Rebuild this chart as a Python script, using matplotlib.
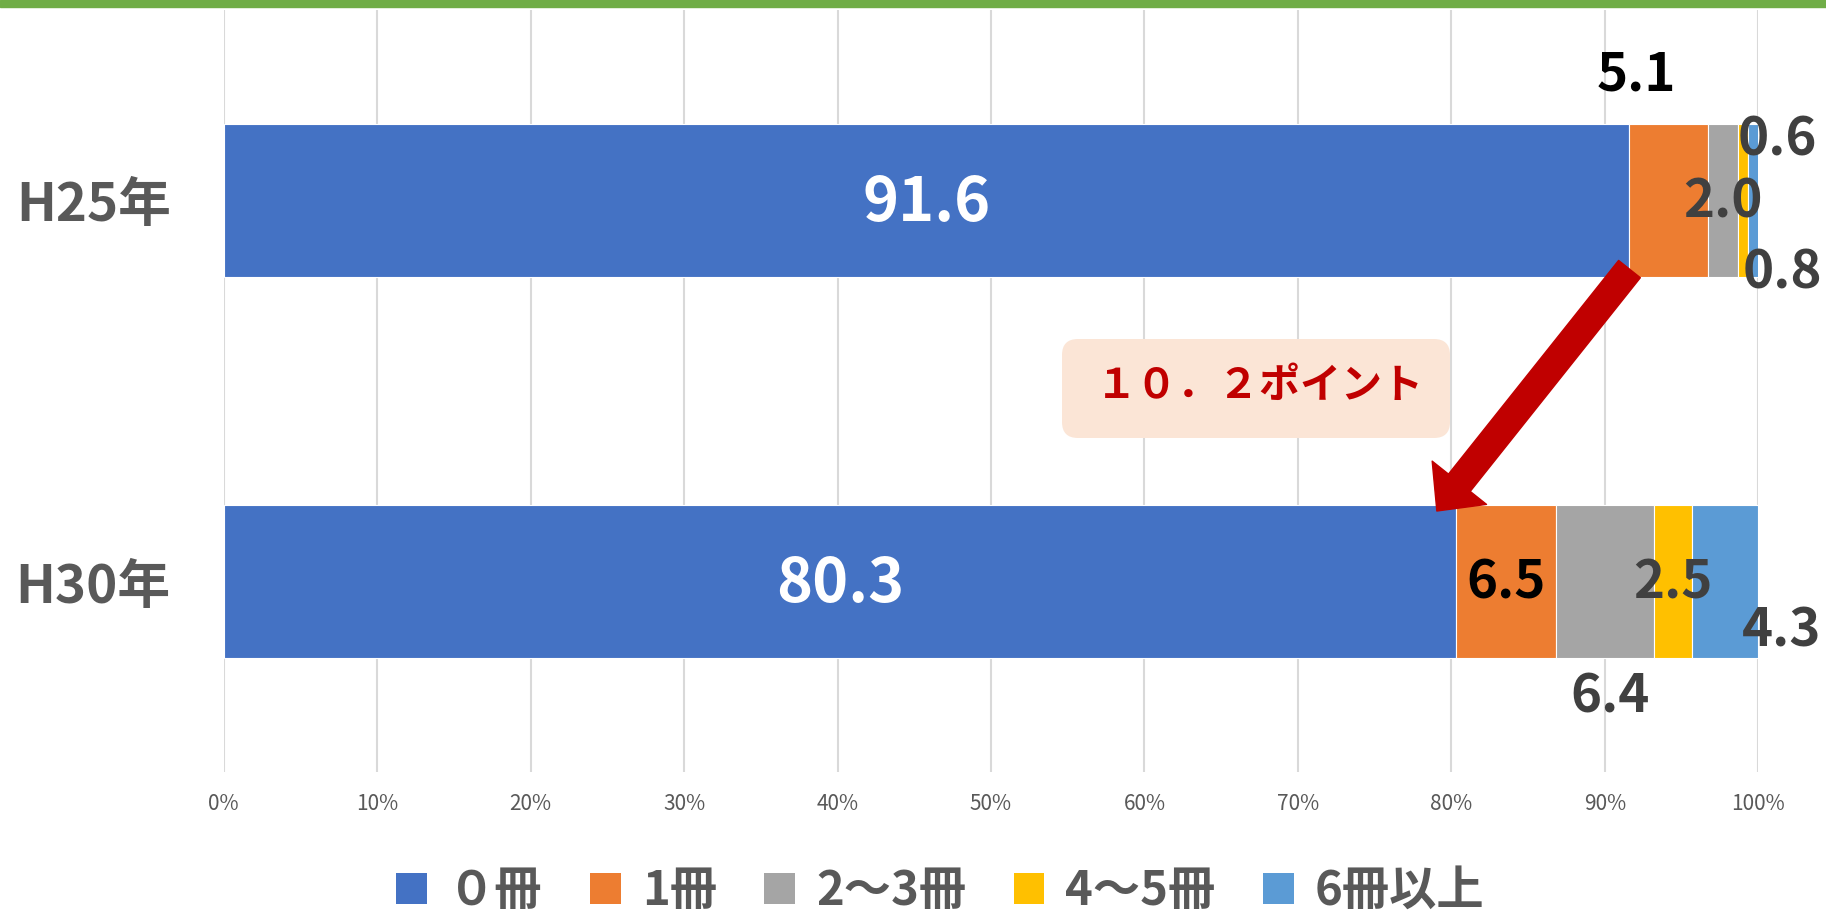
import matplotlib
matplotlib.use("Agg")
import matplotlib.pyplot as plt
from matplotlib.patches import FancyBboxPatch, FancyArrowPatch, Rectangle
from matplotlib.transforms import Affine2D
import numpy as np

plt.rcParams['font.family'] = ['Noto Sans CJK JP', 'DejaVu Sans']

# ---- data ----
years = ["H25年", "H30年"]
series_names = ["０冊", "1冊", "2～3冊", "4～5冊", "6冊以上"]
h25 = [91.6, 5.1, 2.0, 0.6, 0.8]
h30 = [80.3, 6.5, 6.4, 2.5, 4.3]
xticks = [0, 10, 20, 30, 40, 50, 60, 70, 80, 90, 100]
callout_text = "１０．２ポイント"

# ---- styles ----
colors = ["#4472C4", "#ED7D31", "#A5A5A5", "#FFC000", "#5B9BD5"]
label_colors = [["white", "black", "#404040", "#404040", "#404040"],
                ["white", "black", "#404040", "#404040", "#404040"]]
label_sizes = [44, 38, 38, 38, 38]
# label offsets in pixels (dx, dy up) relative to segment centre
label_offsets = [[(0, 4), (-32, 131), (0, 4), (34, 66), (29, -67)],
                 [(0, 4), (0, 4), (5, -110), (0, 4), (56, -44)]]

W, H, DPI = 1826, 915, 100
fig = plt.figure(figsize=(W / DPI, H / DPI), dpi=DPI)
ax = fig.add_axes([223.6 / W, 1 - 772 / H, (1758.4 - 223.6) / W, (772 - 10) / H])

ypos = [1, 0]
data = [h25, h30]
bar_h = 0.4
for si in range(len(series_names)):
    vals = [d[si] for d in data]
    lefts = [sum(d[:si]) for d in data]
    ax.barh(ypos, vals, left=lefts, height=bar_h, color=colors[si],
            edgecolor="white", linewidth=0.8, label=series_names[si], zorder=2)

# data labels
for ri, d in enumerate(data):
    for si, v in enumerate(d):
        cx = sum(d[:si]) + v / 2
        dx, dy = label_offsets[ri][si]
        ax.annotate(f"{v:.1f}", xy=(cx, ypos[ri]), xytext=(dx, dy),
                    textcoords="offset pixels", ha="center", va="center_baseline",
                    fontsize=label_sizes[si], fontweight="bold", color=label_colors[ri][si],
                    zorder=5)

ax.set_xlim(0, 100)
ax.set_ylim(-0.5, 1.5)
ax.set_xticks(xticks)
ax.set_xticklabels([f"{t}%" for t in xticks], fontsize=15, color="#595959")
ax.set_yticks(ypos)
ax.set_yticklabels(years, fontsize=38, fontweight="bold", color="#595959")
ax.tick_params(axis="both", length=0)
ax.tick_params(axis="x", pad=15)
ax.tick_params(axis="y", pad=38)
for s in ax.spines.values():
    s.set_visible(False)
ax.xaxis.grid(True, color="#D9D9D9", linewidth=1.5, zorder=0)
ax.set_axisbelow(True)

# callout box (pixel coords)
pix = Affine2D().scale(1 / DPI) + fig.dpi_scale_trans
box = FancyBboxPatch((1062, H - 438), 388, 99, boxstyle="round,pad=0,rounding_size=16",
                     fc="#FBE5D6", ec="none", transform=pix, zorder=6)
fig.add_artist(box)
fig.text(1260 / W, 1 - 386 / H, callout_text, ha="center", va="center",
         fontsize=29.5, fontweight="bold", color="#C00000", zorder=7)

# arrow from end of H25 "0冊" to end of H30 "0冊"
arrow = FancyArrowPatch(posA=(h25[0], 1 - bar_h / 2 + 0.02), posB=(h30[0] - 1.25, bar_h / 2 - 0.015),
                        arrowstyle="simple,head_width=50,head_length=26,tail_width=20",
                        mutation_scale=1, shrinkA=0, shrinkB=0, color="#C00000",
                        transform=ax.transData, zorder=8)
ax.add_patch(arrow)

# top green line
fig.add_artist(Rectangle((0, 1 - 7 / H), 1, 7 / H, transform=fig.transFigure,
                         color="#70AD47", zorder=10))

# legend
handles, labels = ax.get_legend_handles_labels()
leg = fig.legend(handles, labels, loc="center", bbox_to_anchor=(0.515, 1 - 891 / H),
                 ncol=5, frameon=False, prop={"size": 34, "weight": "bold"},
                 handlelength=0.65, handleheight=0.65,
                 handletextpad=0.45, columnspacing=1.0)
for t in leg.get_texts():
    t.set_color("#595959")
for hnd in leg.legend_handles:
    hnd.set_edgecolor("none")

fig.savefig("out.png", dpi=DPI)
